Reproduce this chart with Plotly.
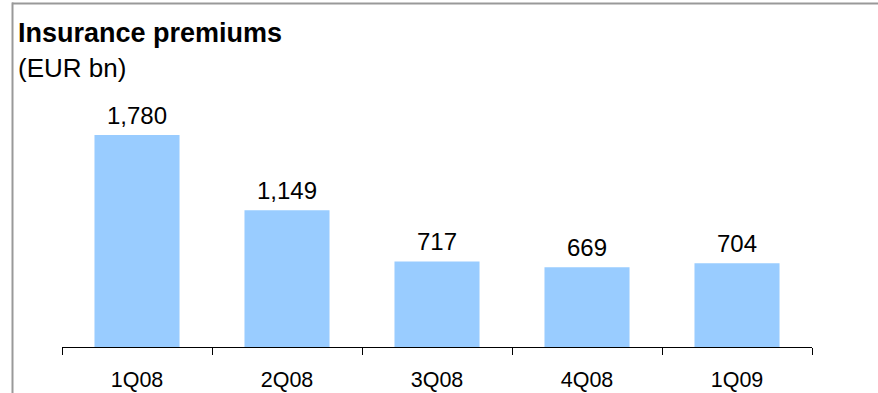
import plotly.graph_objects as go

# Quarterly insurance premiums (EUR bn)
quarters = ["1Q08", "2Q08", "3Q08", "4Q08", "1Q09"]
premiums = [1780, 1149, 717, 669, 704]

W, H = 878, 393
L, R, T, B = 62, 66, 100, 46
plot_w = W - L - R
plot_h = H - T - B


def px_x(x):
    return (x - L) / plot_w


def px_y(y):
    return (H - B - y) / plot_h


FONT = "Liberation Sans, Arial, sans-serif"

fig = go.Figure(
    go.Bar(
        x=quarters,
        y=premiums,
        marker=dict(color="#99CCFF", line=dict(width=0)),
        width=0.567,
        hoverinfo="skip",
    )
)

# value labels above each bar
value_labels = [
    dict(
        x=q, y=v, xref="x", yref="y",
        text=f"{v:,}",
        xanchor="center", yanchor="middle",
        yshift=20,
        showarrow=False,
        font=dict(family=FONT, size=24, color="#000000"),
    )
    for q, v in zip(quarters, premiums)
]

heading = [
    dict(
        text="<b>Insurance premiums</b>",
        x=px_x(16), y=px_y(33),
        xref="paper", yref="paper",
        xanchor="left", yanchor="middle",
        showarrow=False,
        font=dict(family=FONT, size=27, color="#000000"),
    ),
    dict(
        text="(EUR bn)",
        x=px_x(16), y=px_y(68),
        xref="paper", yref="paper",
        xanchor="left", yanchor="middle",
        showarrow=False,
        font=dict(family=FONT, size=26, color="#000000"),
    ),
]

fig.update_layout(
    width=W,
    height=H,
    margin=dict(l=L, r=R, t=T, b=B, autoexpand=False),
    paper_bgcolor="white",
    plot_bgcolor="white",
    showlegend=False,
    font=dict(family=FONT, color="#000000"),
    xaxis=dict(
        type="category",
        automargin=False,
        showline=True,
        linecolor="#000000",
        linewidth=1,
        ticks="outside",
        tickson="boundaries",
        ticklen=7,
        tickcolor="#000000",
        tickfont=dict(family=FONT, size=21.5, color="#000000"),
        ticklabelstandoff=13,
        showgrid=False,
        zeroline=False,
        fixedrange=True,
    ),
    yaxis=dict(
        range=[0, 2074],
        visible=False,
        automargin=False,
        showgrid=False,
        zeroline=False,
        fixedrange=True,
    ),
    annotations=heading + value_labels,
    shapes=[
        # frame: top and left edges
        dict(type="line", xref="paper", yref="paper",
             x0=px_x(12), x1=px_x(W), y0=px_y(3.5), y1=px_y(3.5),
             line=dict(color="#999999", width=2)),
        dict(type="line", xref="paper", yref="paper",
             x0=px_x(12.5), x1=px_x(12.5), y0=px_y(2.5), y1=px_y(H),
             line=dict(color="#999999", width=2)),
    ],
)

fig.write_html("out.html")
